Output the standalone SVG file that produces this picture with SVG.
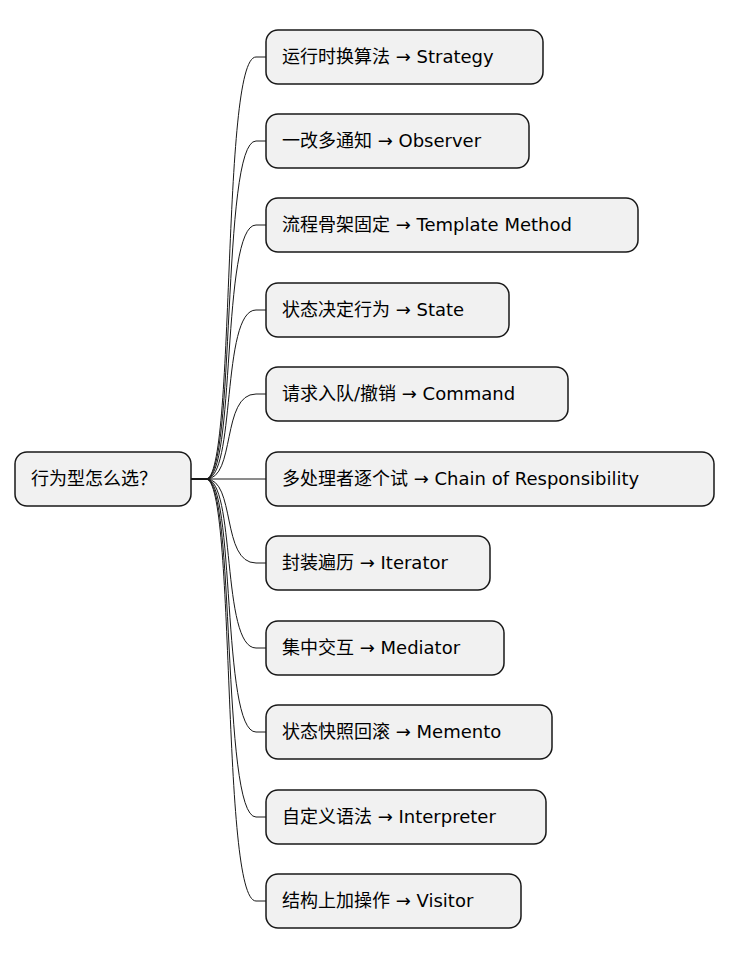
<svg xmlns="http://www.w3.org/2000/svg" width="731" height="960" viewBox="0 0 731 960">
<style>
.n{fill:#F1F1F1;stroke:#181818;stroke-width:1.5}
.t{font-family:"DejaVu Sans","Noto Sans CJK SC",sans-serif;font-size:18px;fill:#000}
.c{fill:none;stroke:#181818;stroke-width:1}
</style>
<rect width="731" height="960" fill="#fff"/>
<g id="connectors">
<path class="c" d="M191,479 L206,479 C236,479 221,57 256,57 L266,57"/>
<path class="c" d="M191,479 L206,479 C236,479 221,141 256,141 L266,141"/>
<path class="c" d="M191,479 L206,479 C236,479 221,225 256,225 L266,225"/>
<path class="c" d="M191,479 L206,479 C236,479 221,310 256,310 L266,310"/>
<path class="c" d="M191,479 L206,479 C236,479 221,394 256,394 L266,394"/>
<path class="c" d="M191,479 L266,479"/>
<path class="c" d="M191,479 L206,479 C236,479 221,563 256,563 L266,563"/>
<path class="c" d="M191,479 L206,479 C236,479 221,648 256,648 L266,648"/>
<path class="c" d="M191,479 L206,479 C236,479 221,732 256,732 L266,732"/>
<path class="c" d="M191,479 L206,479 C236,479 221,817 256,817 L266,817"/>
<path class="c" d="M191,479 L206,479 C236,479 221,901 256,901 L266,901"/>
</g>
<g id="root"><rect class="n" x="15" y="452" width="176" height="54" rx="12"/><text class="t" x="31" y="485">行为型怎么选？</text></g>
<g id="n1"><rect class="n" x="266" y="30" width="277" height="54" rx="12"/><text class="t" x="282" y="63">运行时换算法 → Strategy</text></g>
<g id="n2"><rect class="n" x="266" y="114" width="263" height="54" rx="12"/><text class="t" x="282" y="147">一改多通知 → Observer</text></g>
<g id="n3"><rect class="n" x="266" y="198" width="372" height="54" rx="12"/><text class="t" x="282" y="231">流程骨架固定 → Template Method</text></g>
<g id="n4"><rect class="n" x="266" y="283" width="243" height="54" rx="12"/><text class="t" x="282" y="316">状态决定行为 → State</text></g>
<g id="n5"><rect class="n" x="266" y="367" width="302" height="54" rx="12"/><text class="t" x="282" y="400">请求入队/撤销 → Command</text></g>
<g id="n6"><rect class="n" x="266" y="452" width="448" height="54" rx="12"/><text class="t" x="282" y="485">多处理者逐个试 → Chain of Responsibility</text></g>
<g id="n7"><rect class="n" x="266" y="536" width="224" height="54" rx="12"/><text class="t" x="282" y="569">封装遍历 → Iterator</text></g>
<g id="n8"><rect class="n" x="266" y="621" width="238" height="54" rx="12"/><text class="t" x="282" y="654">集中交互 → Mediator</text></g>
<g id="n9"><rect class="n" x="266" y="705" width="286" height="54" rx="12"/><text class="t" x="282" y="738">状态快照回滚 → Memento</text></g>
<g id="n10"><rect class="n" x="266" y="790" width="280" height="54" rx="12"/><text class="t" x="282" y="823">自定义语法 → Interpreter</text></g>
<g id="n11"><rect class="n" x="266" y="874" width="255" height="54" rx="12"/><text class="t" x="282" y="907">结构上加操作 → Visitor</text></g>
</svg>
